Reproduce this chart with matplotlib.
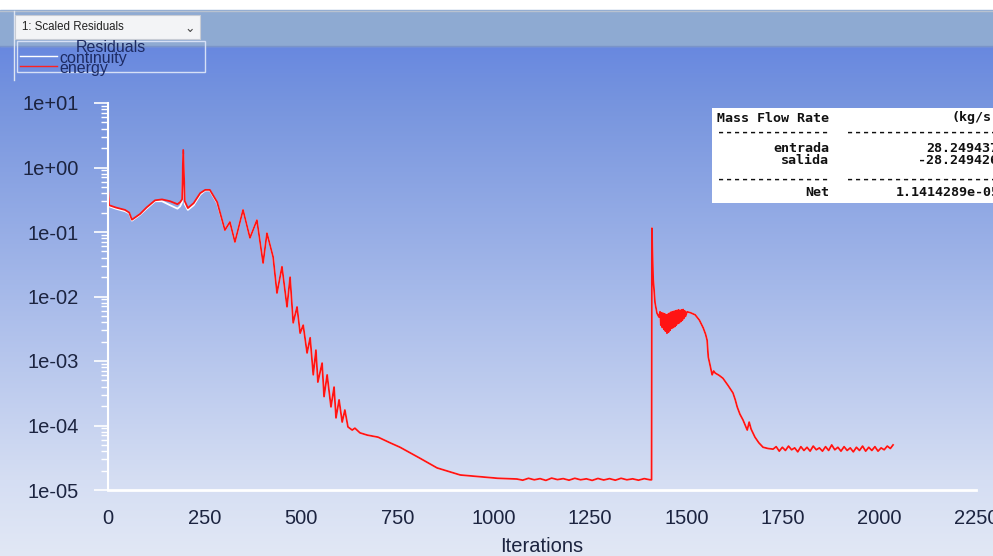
import numpy as np
import matplotlib.pyplot as plt
from matplotlib.patches import Rectangle
from matplotlib.ticker import FixedLocator, LogLocator, FuncFormatter

# Residual history (iteration, residual)
energy_iter = [0, 3, 20, 44, 55, 62, 83, 100, 122, 140, 161, 180, 187, 192, 195, 199,
               207, 222, 239, 252, 264, 283, 303, 316, 329, 350, 368, 386, 402, 412,
               428, 438, 451, 464, 472, 480, 490, 498, 506, 516, 524, 532, 539, 544,
               555, 560, 568, 578, 586, 591, 599, 607, 614, 622, 633, 640, 653, 672,
               700, 731, 757, 809, 853, 913, 972, 1010,
               1060, 1075, 1090, 1105, 1120, 1135, 1150, 1165, 1180, 1195, 1210, 1225,
               1240, 1255, 1270, 1285, 1300, 1315, 1330, 1345, 1360, 1375, 1390, 1405,
               1409, 1410, 1413, 1418, 1423, 1428,
               1431, 1433, 1435, 1437, 1439, 1441, 1443, 1445, 1447, 1449, 1451, 1453,
               1455, 1457, 1459, 1461, 1463, 1465, 1467, 1469, 1471, 1473, 1475, 1477,
               1479, 1481, 1483, 1485, 1487, 1489, 1491, 1493, 1495, 1497, 1501,
               1510, 1522, 1533, 1543, 1549, 1553, 1556, 1560, 1566, 1570, 1574, 1584,
               1594, 1607, 1620, 1626, 1631, 1638, 1646, 1652, 1657, 1662, 1667, 1677,
               1687, 1698, 1711, 1724,
               1732, 1740, 1748, 1756, 1764, 1772, 1780, 1788, 1796, 1804, 1812, 1820,
               1828, 1836, 1844, 1852, 1860, 1868, 1876, 1884, 1892, 1900, 1908, 1916,
               1924, 1932, 1940, 1948, 1956, 1964, 1972, 1980, 1988, 1996, 2004, 2012,
               2020, 2028, 2035]
energy_res = [4.8e-1, 2.6e-1, 2.4e-1, 2.2e-1, 2.0e-1, 1.55e-1, 1.9e-1, 2.4e-1, 3.1e-1,
              3.2e-1, 3.0e-1, 2.7e-1, 2.9e-1, 3.2e-1, 1.87, 3.0e-1,
              2.35e-1, 2.8e-1, 4.0e-1, 4.5e-1, 4.5e-1, 2.9e-1, 1.07e-1, 1.43e-1, 7.0e-2,
              2.2e-1, 8.1e-2, 1.53e-1, 3.3e-2, 9.6e-2,
              4.1e-2, 1.13e-2, 2.9e-2, 6.9e-3, 2.0e-2, 3.9e-3, 6.9e-3, 2.7e-3, 3.6e-3,
              1.33e-3, 2.3e-3, 6.1e-4, 1.48e-3, 4.7e-4,
              9.3e-4, 2.8e-4, 6.1e-4, 1.94e-4, 3.95e-4, 1.31e-4, 2.5e-4, 1.13e-4, 1.74e-4,
              9.5e-5, 8.5e-5, 9.1e-5, 7.7e-5, 7.1e-5,
              6.6e-5, 5.4e-5, 4.6e-5, 3.1e-5, 2.2e-5, 1.71e-5, 1.59e-5, 1.52e-5,
              1.48e-5, 1.42e-5, 1.52e-5, 1.44e-5, 1.50e-5, 1.41e-5, 1.53e-5, 1.45e-5,
              1.50e-5, 1.42e-5, 1.52e-5, 1.44e-5,
              1.49e-5, 1.41e-5, 1.51e-5, 1.43e-5, 1.50e-5, 1.42e-5, 1.52e-5, 1.44e-5,
              1.49e-5, 1.42e-5, 1.50e-5, 1.44e-5,
              1.44e-5, 1.15e-1, 2.0e-2, 8.0e-3, 5.5e-3, 4.8e-3,
              5.8e-3, 3.6e-3, 5.6e-3, 3.3e-3, 5.5e-3, 3.1e-3, 5.4e-3, 2.9e-3, 5.2e-3,
              2.7e-3, 5.3e-3, 2.8e-3,
              5.5e-3, 3.0e-3, 5.7e-3, 3.2e-3, 5.8e-3, 3.3e-3, 5.9e-3, 3.4e-3, 6.0e-3,
              3.6e-3, 6.1e-3, 3.8e-3,
              6.2e-3, 3.9e-3, 6.1e-3, 4.1e-3, 6.2e-3, 4.3e-3, 6.3e-3, 4.6e-3, 6.0e-3,
              4.9e-3, 5.8e-3,
              5.6e-3, 5.2e-3, 4.3e-3, 3.25e-3, 2.6e-3, 2.1e-3, 1.15e-3, 9.0e-4, 6.1e-4,
              7.0e-4, 6.5e-4, 6.0e-4,
              5.4e-4, 4.2e-4, 3.2e-4, 2.5e-4, 1.94e-4, 1.5e-4, 1.22e-4, 1.0e-4, 8.5e-5,
              1.13e-4, 8.8e-5, 6.6e-5,
              5.4e-5, 4.6e-5, 4.4e-5, 4.3e-5,
              4.7e-5, 4.0e-5, 4.6e-5, 4.1e-5, 4.8e-5, 4.2e-5, 4.5e-5, 3.9e-5, 4.7e-5,
              4.1e-5, 4.6e-5, 4.0e-5,
              4.8e-5, 4.2e-5, 4.5e-5, 4.0e-5, 4.7e-5, 4.1e-5, 5.0e-5, 4.2e-5, 4.6e-5,
              4.0e-5, 4.7e-5, 4.1e-5,
              4.5e-5, 3.9e-5, 4.6e-5, 4.1e-5, 4.8e-5, 4.0e-5, 4.6e-5, 4.1e-5, 4.7e-5,
              4.0e-5, 4.5e-5, 4.2e-5,
              4.8e-5, 4.4e-5, 5.0e-5]

# continuity differs from energy only in the first ~300 iterations
cont_iter_early = [0, 3, 20, 44, 55, 62, 83, 100, 122, 140, 161, 180, 187, 192, 195,
                   199, 207, 222, 239, 252, 264, 283]
cont_res_early = [4.6e-1, 2.5e-1, 2.3e-1, 2.1e-1, 1.95e-1, 1.5e-1, 1.85e-1, 2.3e-1,
                  3.0e-1, 3.0e-1, 2.6e-1, 2.3e-1, 2.5e-1, 2.9e-1, 1.6, 2.7e-1, 2.2e-1,
                  2.6e-1, 3.8e-1, 4.4e-1, 4.4e-1, 2.8e-1]

y_ticks = [1e-5, 1e-4, 1e-3, 1e-2, 1e-1, 1e0, 1e1]
x_ticks = [0, 250, 500, 750, 1000, 1250, 1500, 1750, 2000, 2250]

# report box text
report_left = ["Mass Flow Rate", "--------------", "entrada", "salida",
               "--------------", "Net"]
report_right = ["(kg/s)", "--------------------", "28.2494372", "-28.2494261",
                "--------------------", "1.1414289e-05"]
report_y = [118, 132, 148, 161, 179, 193]
report_xr = [999, 1006, 1006, 1006, 1006, 1000]

W, H = 993, 556
fig = plt.figure(figsize=(W / 100, H / 100), dpi=100)

# background in pixel coordinates
bg = fig.add_axes([0, 0, 1, 1])
bg.set_xlim(0, W)
bg.set_ylim(H, 0)
bg.axis("off")
rows = np.arange(46, H)
stops_y = [46, 100, 300, 480, 556]
stops_c = np.array([[104, 136, 224], [118, 148, 222], [168, 187, 234],
                    [213, 222, 243], [226, 232, 245]]) / 255.0
grad = np.stack([np.interp(rows, stops_y, stops_c[:, k]) for k in range(3)], axis=1)
bg.imshow(grad[:, None, :], extent=[0, W, H, 46], aspect="auto", zorder=0)
bg.add_patch(Rectangle((0, 0), W, 10, color="white", zorder=1))
bg.add_patch(Rectangle((0, 10), W, 36, color="#8eaad2", zorder=1))
bg.plot([0, W], [10.5, 10.5], color="#b8c2d0", lw=1, zorder=2)
bg.plot([0, W], [45.5, 45.5], color="#7a94c8", lw=1, zorder=2)
bg.plot([13.5, 13.5], [11, 80], color="#dfe6f2", lw=1, zorder=2)

# dropdown
bg.add_patch(Rectangle((15, 15), 185, 24, facecolor="#f3f4f6", edgecolor="#c8ccd4",
                       lw=0.8, zorder=3))
bg.text(22, 27.5, "1: Scaled Residuals", fontsize=8.3, color="#222222",
        va="center", ha="left", family="Liberation Sans", zorder=4)
bg.text(190, 28, "\u2304", fontsize=9, color="#444444", va="center", ha="center", zorder=4)

# legend
leg_box = Rectangle((17, 41), 188, 31, facecolor="none", edgecolor="#d6e0f6",
                    lw=1, zorder=3)
bg.add_patch(leg_box)
bg.plot([20, 57], [56, 56], color="white", lw=1, zorder=4)
bg.plot([20, 57], [65.5, 65.5], color="#ff2020", lw=1, zorder=4)
for txt, xx, yy in [("Residuals", 76, 48), ("continuity", 59, 58), ("energy", 59, 68)]:
    t = bg.text(xx, yy, txt, fontsize=11.5, color="#1d2b63", va="center", ha="left",
                family="Liberation Sans", zorder=5)
    t.set_clip_path(leg_box)

# report box
bg.add_patch(Rectangle((712, 108), 290, 95, facecolor="white", edgecolor="none", zorder=3))
for left, right, yy, xr in zip(report_left, report_right, report_y, report_xr):
    bg.text(829, yy, left, fontsize=9.6, family="DejaVu Sans Mono", fontweight="bold",
            color="#111111", ha="right", va="center", zorder=4)
    bg.text(xr, yy, right, fontsize=9.6, family="DejaVu Sans Mono", fontweight="bold",
            color="#111111", ha="right", va="center", zorder=4)

# plot axes
ax = fig.add_axes([108 / W, 1 - 490 / H, (976 - 108) / W, (490 - 103) / H])
ax.patch.set_alpha(0)
ax.set_yscale("log")
ax.set_xlim(0, 2250)
ax.set_ylim(1e-5, 1e1)

n_early = energy_iter.index(303)
ax.plot(cont_iter_early + energy_iter[n_early:], cont_res_early + energy_res[n_early:],
        color="white", lw=1.3, clip_on=False)
ax.plot(energy_iter, energy_res, color="#ff1414", lw=1.3, clip_on=False)

for side in ["top", "right"]:
    ax.spines[side].set_visible(False)
ax.spines["left"].set_color("white")
ax.spines["bottom"].set_color("white")
ax.spines["left"].set_linewidth(1.5)
ax.spines["bottom"].set_linewidth(2)

ax.yaxis.set_major_locator(FixedLocator(y_ticks))
ax.yaxis.set_minor_locator(LogLocator(base=10, subs=np.arange(2, 10)))
ax.yaxis.set_major_formatter(FuncFormatter(lambda v, p: f"{v:.0e}"))
ax.xaxis.set_major_locator(FixedLocator(x_ticks))
ax.tick_params(axis="y", which="major", direction="out", length=10, width=1.2,
               color="white", labelsize=14.5, labelcolor="#1c2440", pad=11)
ax.tick_params(axis="y", which="minor", direction="out", length=5, width=1,
               color="white")
ax.tick_params(axis="x", length=0, labelsize=14.5, labelcolor="#1c2440", pad=14)
for lab in ax.get_xticklabels() + ax.get_yticklabels():
    lab.set_family("Liberation Sans")
ax.set_xlabel("Iterations", fontsize=14.5, color="#1c2440", family="Liberation Sans",
              labelpad=6)

fig.savefig("out.png", dpi=100)
